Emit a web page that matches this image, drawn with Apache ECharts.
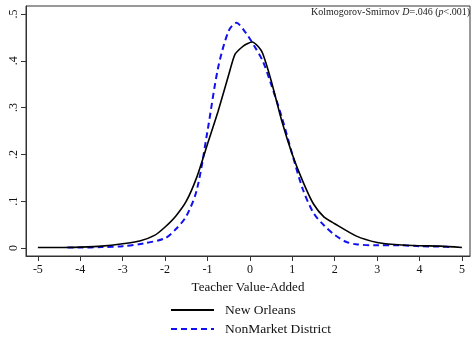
<!DOCTYPE html>
<html>
<head>
<meta charset="utf-8">
<script src="https://cdn.jsdelivr.net/npm/echarts@6/dist/echarts.min.js"></script>
<style>
  body { margin: 0; background: #fff; }
  #main { width: 472px; height: 339px; }
</style>
</head>
<body>
<div id="main"></div>
<script>
// teacher value-added density
var xNola = [-5, -4.5, -4, -3.5, -3, -2.6, -2.25, -2, -1.75, -1.5, -1.25, -1, -0.75, -0.5, -0.35, -0.15, 0.05, 0.2, 0.3, 0.5, 0.75, 1, 1.25, 1.5, 1.75, 2, 2.5, 3, 3.5, 4, 4.5, 5];
var yNola = [0.001, 0.001, 0.002, 0.004, 0.009, 0.015, 0.027, 0.045, 0.068, 0.1, 0.152, 0.222, 0.292, 0.37, 0.414, 0.432, 0.44, 0.43, 0.416, 0.358, 0.272, 0.2, 0.142, 0.094, 0.066, 0.052, 0.026, 0.012, 0.007, 0.005, 0.004, 0.001];
var xNonMarket = [-4.3, -4, -3.5, -3, -2.5, -2, -1.75, -1.5, -1.25, -1, -0.75, -0.5, -0.32, -0.1, 0.1, 0.3, 0.5, 0.75, 1, 1.25, 1.5, 1.75, 2, 2.25, 2.5, 3, 3.5, 4, 4.5, 4.8];
var yNonMarket = [0.001, 0.001, 0.002, 0.004, 0.01, 0.021, 0.04, 0.068, 0.125, 0.25, 0.385, 0.464, 0.481, 0.46, 0.432, 0.4, 0.35, 0.28, 0.2, 0.125, 0.075, 0.048, 0.028, 0.014, 0.008, 0.006, 0.006, 0.004, 0.003, 0.002];
var xTicks = [-5, -4, -3, -2, -1, 0, 1, 2, 3, 4, 5];
var yTicks = [0, 0.1, 0.2, 0.3, 0.4, 0.5];

function pairs(xs, ys) {
  return xs.map(function (x, i) { return [x, ys[i]]; });
}

var myChart = echarts.init(document.getElementById('main'));
var serif = 'Liberation Serif';

var option = {
  animation: false,
  textStyle: { fontFamily: serif },
  title: {
    text: '{a|Kolmogorov-Smirnov }{i|D}{a|=.046 (}{i|p}{a|<.001)}',
    right: 2,
    top: 7,
    padding: 0,
    textStyle: {
      rich: {
        a: { fontFamily: serif, fontSize: 10, fontWeight: 'normal', color: '#222' },
        i: { fontFamily: serif, fontSize: 10, fontWeight: 'normal', fontStyle: 'italic', color: '#222' }
      }
    }
  },
  grid: {
    left: 26,
    top: 6,
    right: 2,
    bottom: 83,
    show: true,
    borderColor: '#333',
    borderWidth: 1
  },
  legend: {
    orient: 'vertical',
    left: 170,
    top: 303,
    padding: 0,
    itemWidth: 43,
    itemHeight: 10,
    itemGap: 5,
    itemStyle: { opacity: 0 },
    textStyle: { fontFamily: serif, fontSize: 13.5, color: '#111', padding: [0, 0, 0, 6] },
    data: ['New Orleans', 'NonMarket District']
  },
  xAxis: {
    type: 'value',
    min: -5.28,
    max: 5.19,
    name: 'Teacher Value-Added',
    nameLocation: 'middle',
    nameGap: 22,
    nameTextStyle: { fontFamily: serif, fontSize: 13, color: '#111' },
    axisLine: { show: true, onZero: false, lineStyle: { color: '#333' } },
    axisTick: { show: true, length: 5, customValues: xTicks, lineStyle: { color: '#333' } },
    axisLabel: {
      customValues: xTicks,
      margin: 8,
      fontFamily: serif,
      fontSize: 12,
      color: '#111'
    },
    splitLine: { show: false }
  },
  yAxis: {
    type: 'value',
    min: -0.017,
    max: 0.517,
    axisLine: { show: true, onZero: false, lineStyle: { color: '#333' } },
    axisTick: { show: true, length: 5, customValues: yTicks, lineStyle: { color: '#333' } },
    axisLabel: {
      customValues: yTicks,
      rotate: 90,
      margin: 6,
      fontFamily: serif,
      fontSize: 12,
      color: '#111',
      formatter: function (v) {
        return v === 0 ? '0' : String(Math.round(v * 10) / 10).replace(/^0/, '');
      }
    },
    splitLine: { show: false }
  },
  series: [
    {
      name: 'New Orleans',
      type: 'line',
      symbol: 'none',
      smooth: 0.2,
      data: pairs(xNola, yNola),
      lineStyle: { color: '#000', width: 1.6 },
      itemStyle: { color: '#000' },
      z: 3
    },
    {
      name: 'NonMarket District',
      type: 'line',
      symbol: 'none',
      smooth: 0.3,
      data: pairs(xNonMarket, yNonMarket),
      lineStyle: { color: '#1010f0', width: 2, type: [6, 4] },
      itemStyle: { color: '#1010f0' },
      z: 2
    }
  ]
};

option && myChart.setOption(option);
</script>
</body>
</html>
